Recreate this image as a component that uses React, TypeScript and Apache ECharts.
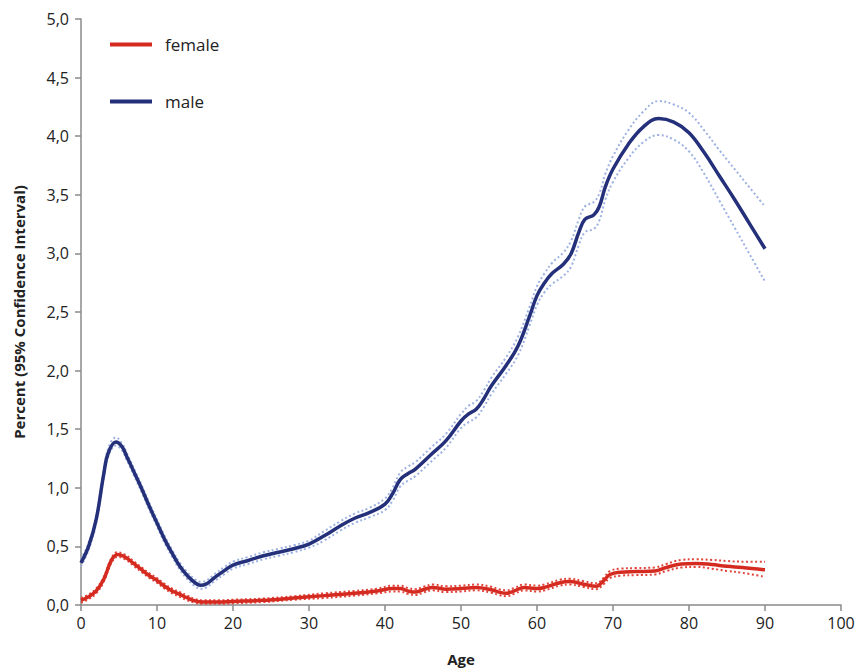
import React, { useEffect, useRef } from "react";
import * as echarts from "echarts";

const maleAges = [0, 1, 2, 3, 3.6, 4.6, 5.4, 6, 7, 8, 9, 10, 11, 12, 13, 14, 15, 15.7, 16.5, 17.5, 19, 20, 22, 24, 26, 28, 30, 32, 34, 36, 38, 40, 41, 42, 43, 44, 46, 48, 50, 51, 52, 53, 54, 56, 57.5, 59, 60, 61, 62, 63.5, 64.5, 65.5, 66.3, 67.5, 68.2, 69, 70, 72, 74, 76, 78, 80, 82, 84, 86, 88, 90];
const maleValues = [0.36, 0.50, 0.73, 1.12, 1.30, 1.39, 1.35, 1.27, 1.13, 0.99, 0.84, 0.70, 0.56, 0.44, 0.33, 0.25, 0.19, 0.168, 0.18, 0.23, 0.30, 0.34, 0.38, 0.42, 0.45, 0.48, 0.52, 0.59, 0.67, 0.74, 0.79, 0.86, 0.95, 1.07, 1.12, 1.16, 1.28, 1.40, 1.57, 1.63, 1.67, 1.76, 1.87, 2.05, 2.21, 2.46, 2.64, 2.75, 2.83, 2.91, 3.00, 3.18, 3.29, 3.33, 3.40, 3.57, 3.72, 3.93, 4.08, 4.15, 4.12, 4.03, 3.86, 3.66, 3.46, 3.25, 3.04];
const maleUpper = [0.39, 0.53, 0.76, 1.15, 1.34, 1.43, 1.38, 1.30, 1.16, 1.02, 0.87, 0.73, 0.59, 0.47, 0.36, 0.28, 0.22, 0.198, 0.21, 0.26, 0.33, 0.37, 0.41, 0.45, 0.48, 0.51, 0.55, 0.63, 0.71, 0.78, 0.83, 0.91, 1.00, 1.13, 1.18, 1.22, 1.34, 1.46, 1.63, 1.70, 1.74, 1.83, 1.94, 2.12, 2.29, 2.54, 2.72, 2.83, 2.92, 3.01, 3.11, 3.29, 3.40, 3.44, 3.51, 3.68, 3.83, 4.05, 4.21, 4.30, 4.27, 4.20, 4.05, 3.88, 3.72, 3.56, 3.40];
const maleLower = [0.33, 0.47, 0.70, 1.09, 1.27, 1.36, 1.32, 1.24, 1.10, 0.96, 0.81, 0.67, 0.53, 0.41, 0.30, 0.22, 0.16, 0.138, 0.15, 0.20, 0.27, 0.31, 0.35, 0.39, 0.42, 0.45, 0.49, 0.55, 0.63, 0.70, 0.75, 0.81, 0.89, 1.01, 1.06, 1.10, 1.22, 1.34, 1.51, 1.56, 1.60, 1.69, 1.80, 1.98, 2.13, 2.38, 2.56, 2.67, 2.74, 2.81, 2.89, 3.07, 3.18, 3.21, 3.28, 3.46, 3.61, 3.81, 3.95, 4.01, 3.97, 3.87, 3.68, 3.45, 3.22, 2.99, 2.76];

const femaleAges = [0, 1, 2, 3, 4, 4.8, 5.8, 7, 8, 9, 10, 11, 12, 13, 14, 15, 16, 18, 20, 24, 28, 32, 36, 39, 41, 42, 43, 44, 45, 46.3, 48, 50, 52, 54, 55, 56, 57, 58.3, 60, 61, 63, 64.3, 66, 67.8, 68.8, 69.6, 71, 73, 75.5, 77, 79, 81, 83, 85, 87, 90];
const femaleValues = [0.04, 0.07, 0.12, 0.22, 0.38, 0.43, 0.41, 0.35, 0.30, 0.25, 0.21, 0.16, 0.12, 0.09, 0.06, 0.035, 0.025, 0.025, 0.03, 0.04, 0.06, 0.08, 0.10, 0.12, 0.14, 0.14, 0.12, 0.11, 0.13, 0.15, 0.135, 0.14, 0.15, 0.13, 0.11, 0.10, 0.12, 0.15, 0.14, 0.15, 0.19, 0.20, 0.18, 0.16, 0.21, 0.26, 0.28, 0.285, 0.29, 0.32, 0.35, 0.355, 0.345, 0.33, 0.32, 0.30];
const femaleUpper = [0.06, 0.09, 0.14, 0.24, 0.40, 0.45, 0.43, 0.37, 0.32, 0.27, 0.23, 0.18, 0.14, 0.11, 0.08, 0.05, 0.04, 0.04, 0.045, 0.055, 0.075, 0.10, 0.12, 0.14, 0.165, 0.165, 0.145, 0.135, 0.155, 0.175, 0.16, 0.165, 0.175, 0.155, 0.135, 0.125, 0.145, 0.175, 0.165, 0.175, 0.215, 0.225, 0.205, 0.185, 0.235, 0.29, 0.31, 0.315, 0.32, 0.35, 0.385, 0.39, 0.385, 0.375, 0.37, 0.37];
const femaleLower = [0.02, 0.05, 0.10, 0.20, 0.36, 0.41, 0.39, 0.33, 0.28, 0.23, 0.19, 0.14, 0.10, 0.07, 0.04, 0.02, 0.01, 0.01, 0.015, 0.025, 0.045, 0.06, 0.08, 0.10, 0.115, 0.115, 0.095, 0.085, 0.105, 0.125, 0.11, 0.115, 0.125, 0.105, 0.085, 0.075, 0.095, 0.125, 0.115, 0.125, 0.165, 0.175, 0.155, 0.135, 0.18, 0.23, 0.25, 0.255, 0.26, 0.29, 0.32, 0.325, 0.31, 0.29, 0.275, 0.24];

const xTicks = { min: 0, max: 100, interval: 10 };
const yTicks = { min: 0, max: 5, interval: 0.5 };

const pair = (xs: number[], ys: number[]) => xs.map((x, i) => [x, ys[i]]);

const FONT = "'Open Sans', 'Noto Sans', sans-serif";
const MALE = "#24307a";
const MALE_CI = "#9db2e2";
const FEMALE = "#d42a20";
const FEMALE_CI = "#e0443a";

export default function App() {
  const ref = useRef<HTMLDivElement>(null);
  useEffect(() => {
    if (!ref.current) return;
    const chart = echarts.init(ref.current, undefined, { renderer: "svg" });
    const ciLine = (name: string, xs: number[], ys: number[], color: string) => ({
      name,
      type: "line",
      data: pair(xs, ys),
      smooth: 0.4,
      showSymbol: false,
      symbol: "none",
      silent: true,
      lineStyle: { color, width: 2, type: [2, 2.5] },
      z: 1,
    });
    chart.setOption({
      animation: false,
      backgroundColor: "#ffffff",
      textStyle: { fontFamily: FONT },
      grid: { left: 81, right: 17, top: 19, bottom: 67, containLabel: false },
      legend: {
        data: [
          { name: "female", icon: "rect" },
          { name: "male", icon: "rect" },
        ],
        orient: "vertical",
        left: 110,
        top: 36,
        padding: 0,
        itemGap: 40,
        itemWidth: 42,
        itemHeight: 4,
        textStyle: { fontSize: 17, color: "#222", fontFamily: FONT, padding: [0, 0, 0, 8] },
      },
      xAxis: {
        type: "value",
        min: xTicks.min,
        max: xTicks.max,
        interval: xTicks.interval,
        name: "Age",
        nameLocation: "middle",
        nameGap: 46,
        nameTextStyle: { fontSize: 15, fontWeight: "bold", color: "#222", fontFamily: FONT },
        axisLine: { lineStyle: { color: "#8a8a8a", width: 1.5 } },
        axisTick: { show: true, length: 6, lineStyle: { color: "#8a8a8a", width: 1.5 } },
        axisLabel: { fontSize: 16, color: "#222", margin: 10, fontFamily: FONT },
        splitLine: { show: false },
      },
      yAxis: {
        type: "value",
        min: yTicks.min,
        max: yTicks.max,
        interval: yTicks.interval,
        name: "Percent (95% Confidence Interval)",
        nameLocation: "middle",
        nameRotate: 90,
        nameGap: 55,
        nameTextStyle: { fontSize: 15, fontWeight: "bold", color: "#222", fontFamily: FONT },
        axisLine: { show: true, lineStyle: { color: "#8a8a8a", width: 1.5 } },
        axisTick: { show: true, length: 6, lineStyle: { color: "#8a8a8a", width: 1.5 } },
        axisLabel: {
          fontSize: 16,
          color: "#222",
          margin: 12,
          fontFamily: FONT,
          formatter: (v: number) => v.toFixed(1).replace(".", ","),
        },
        splitLine: { show: false },
      },
      series: [
        ciLine("male upper", maleAges, maleUpper, MALE_CI),
        ciLine("male lower", maleAges, maleLower, MALE_CI),
        ciLine("female upper", femaleAges, femaleUpper, FEMALE_CI),
        ciLine("female lower", femaleAges, femaleLower, FEMALE_CI),
        {
          name: "female",
          type: "line",
          data: pair(femaleAges, femaleValues),
          smooth: 0.4,
          showSymbol: false,
          symbol: "none",
          itemStyle: { color: FEMALE },
          lineStyle: { color: FEMALE, width: 3.5 },
          z: 3,
        },
        {
          name: "male",
          type: "line",
          data: pair(maleAges, maleValues),
          smooth: 0.4,
          showSymbol: false,
          symbol: "none",
          itemStyle: { color: MALE },
          lineStyle: { color: MALE, width: 3.5 },
          z: 3,
        },
      ],
    });
    return () => chart.dispose();
  }, []);
  return (
    <div
      ref={ref}
      style={{ position: "fixed", left: 0, top: 0, width: 858, height: 672, background: "#fff" }}
    />
  );
}
